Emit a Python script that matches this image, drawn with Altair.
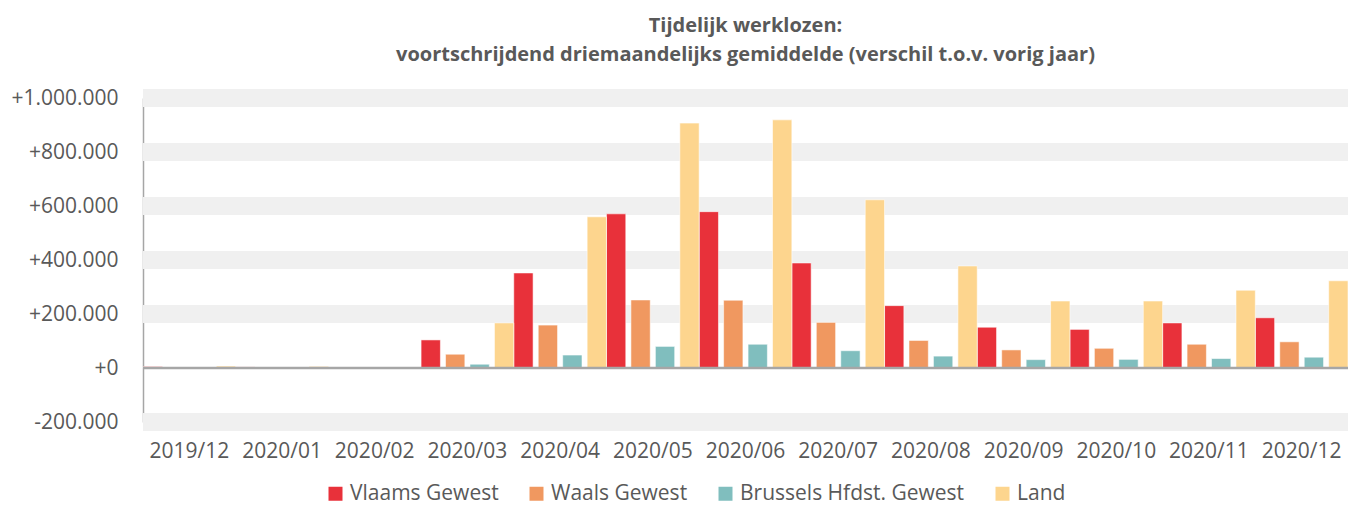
import altair as alt
import pandas as pd

months = ["2019/12", "2020/01", "2020/02", "2020/03", "2020/04", "2020/05", "2020/06",
          "2020/07", "2020/08", "2020/09", "2020/10", "2020/11", "2020/12"]
series = ["Vlaams Gewest", "Waals Gewest", "Brussels Hfdst. Gewest", "Land"]
colors = ["#E8313A", "#F09860", "#80BEBE", "#FDD58E"]

vlaams = [5000, 4000, 500, 104000, 352000, 571000, 579000, 389000, 231000, 151000, 143000, 167000, 186000]
waals = [1000, 1000, 300, 51000, 159000, 252000, 251000, 169000, 102000, 67000, 73000, 88000, 97000]
brussel = [500, 300, 200, 14000, 48000, 80000, 88000, 64000, 44000, 31000, 32000, 35000, 40000]
land = [7000, 6000, 1000, 167000, 560000, 907000, 919000, 623000, 378000, 248000, 248000, 288000, 323000]

y_ticks = [-200000, 0, 200000, 400000, 600000, 800000, 1000000]
band_ticks = [-200000, 200000, 400000, 600000, 800000, 1000000]

rows = []
for s, vals in zip(series, [vlaams, waals, brussel, land]):
    for m, v in zip(months, vals):
        rows.append({"maand": m, "reeks": s, "waarde": v})
df = pd.DataFrame(rows)

FONT = "Open Sans"
GREY = "#595959"

yscale = alt.Scale(domain=[-200000, 1000000], nice=False, zero=False)

label_expr = ("(datum.value < 0 ? '-' : '+') + "
              "replace(format(abs(datum.value), ','), /,/g, '.')")

yaxis = alt.Axis(title=None, values=y_ticks, grid=False, ticks=False,
                 domainColor="#A6A6A6", domainWidth=1.5,
                 labelPadding=25, labelFontSize=21, labelColor=GREY,
                 labelFont=FONT, labelExpr=label_expr)

bands = alt.Chart(pd.DataFrame({"v": band_ticks})).mark_rule(
    color="#F0F0F0", strokeWidth=18
).encode(y=alt.Y("v:Q", scale=yscale, axis=yaxis, title=None))

bars = alt.Chart(df).mark_bar(stroke="white", strokeOpacity=0.55, strokeWidth=1).encode(
    x=alt.X("maand:N", sort=months,
            scale=alt.Scale(paddingInner=0, paddingOuter=0),
            axis=alt.Axis(title=None, labelAngle=0, domain=False, ticks=False,
                          labelPadding=18, labelFontSize=21, labelColor=GREY,
                          labelFont=FONT)),
    xOffset=alt.XOffset("reeks:N", sort=series,
                        scale=alt.Scale(paddingInner=0.21, paddingOuter=0)),
    y=alt.Y("waarde:Q", scale=yscale, axis=yaxis, title=None),
    color=alt.Color("reeks:N", sort=series,
                    scale=alt.Scale(domain=series, range=colors),
                    legend=alt.Legend(title=None, orient="none", direction="horizontal",
                                      legendX=182, legendY=385,
                                      symbolType="square", symbolSize=196,
                                      symbolStrokeWidth=0, labelOffset=4,
                                      columnPadding=27, labelFontSize=21,
                                      labelLimit=500,
                                      labelColor=GREY, labelFont=FONT)),
)

zero = alt.Chart(pd.DataFrame({"v": [0]})).mark_rule(
    color="#A6A6A6", strokeWidth=2.5
).encode(y=alt.Y("v:Q", scale=yscale, axis=yaxis, title=None))

chart = alt.layer(bands, bars, zero).properties(
    width=1205,
    height=324,
    padding={"left": 135, "top": 90, "right": 0, "bottom": 85},
    autosize=alt.AutoSizeParams(type="none"),
    title=alt.TitleParams(
        text=["Tijdelijk werklozen:",
              "voortschrijdend driemaandelijks gemiddelde (verschil t.o.v. vorig jaar)"],
        font=FONT, fontSize=20, fontWeight="bold", color=GREY,
        anchor="middle", baseline="bottom", offset=2, lineHeight=29),
).configure_view(stroke=None)

chart.save("out.html", embed_options={"renderer": "svg", "actions": False})
